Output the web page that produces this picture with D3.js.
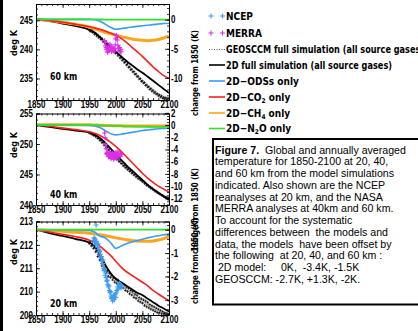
<!DOCTYPE html>
<html>
<head>
<meta charset="utf-8">
<script src="https://cdn.jsdelivr.net/npm/d3@7"></script>
<style>
  body { margin: 0; background: #fff; }
  svg { display: block; }
  .hx { font-family: "Liberation Sans Narrow", "Arial Narrow", "DejaVu Sans Condensed", "Liberation Sans", sans-serif; font-weight: bold; }
  .cap { font-family: "Liberation Sans", Arial, sans-serif; font-size: 10.6px; white-space: pre; }
</style>
</head>
<body>
<svg id="fig" width="418" height="331"></svg>
<script>
// ---- data ----
const modelYears = [1850,1875,1900,1925,1950,1960,1970,1980,1990,2000,2010,2020,2030,2040,2050,2060,2070,2080,2090,2100];

// 60 km
const km60_full = [245.2,244.85,244.45,244.0,243.4,242.9,242.1,241.2,240.4,239.6,238.8,238.0,237.3,236.6,236.0,235.3,234.6,233.9,233.2,232.5];
const km60_ods  = [245.15,245.15,245.15,245.15,245.15,245.1,244.85,244.35,243.8,243.45,243.55,243.7,243.85,243.95,244.05,244.15,244.25,244.35,244.45,244.5];
const km60_co2  = [245.2,244.95,244.65,244.3,243.9,243.7,243.45,243.15,242.8,242.45,241.9,241.2,240.4,239.6,238.8,237.9,237.0,236.2,235.5,235.0];
const km60_ch4  = [245.2,244.95,244.65,244.3,243.85,243.55,243.25,242.95,242.7,242.45,242.2,242.0,241.8,241.65,241.55,241.5,241.55,241.7,241.95,242.3];
const km60_n2o  = [245.15,245.15,245.15,245.15,245.15,245.15,245.14,245.13,245.12,245.1,245.1,245.1,245.1,245.1,245.1,245.1,245.1,245.1,245.1,245.1];

// 40 km
const km40_full = [253.1,252.8,252.5,252.2,251.9,251.55,251.0,250.2,249.3,248.3,247.4,246.5,245.7,244.9,244.1,243.3,242.6,242.0,241.4,240.8];
const km40_ods  = [253.1,253.1,253.1,253.1,253.05,252.95,252.7,252.2,251.7,251.5,251.6,251.75,251.9,252.05,252.2,252.3,252.4,252.5,252.55,252.6];
const km40_co2  = [253.15,252.9,252.6,252.35,252.0,251.75,251.4,250.9,250.3,249.6,248.8,247.9,247.0,246.1,245.2,244.4,243.7,243.1,242.6,242.1];
const km40_ch4  = [253.15,253.15,253.15,253.15,253.15,253.12,253.08,253.05,253.02,253.0,252.98,252.96,252.95,252.95,252.95,252.95,252.95,252.96,252.97,252.98];
const km40_n2o  = [253.1,253.1,253.1,253.1,253.1,253.08,253.05,253.0,252.97,252.95,252.92,252.9,252.88,252.86,252.85,252.83,252.82,252.8,252.8,252.8];

// 20 km
const km20_full = [212.65,212.5,212.38,212.25,212.1,211.95,211.6,211.15,210.8,210.55,210.4,210.25,210.1,209.95,209.85,209.7,209.55,209.4,209.28,209.15];
const km20_ods  = [212.65,212.65,212.65,212.64,212.62,212.55,212.38,212.3,212.1,211.85,211.95,212.05,212.12,212.18,212.24,212.3,212.35,212.39,212.43,212.46];
const km20_co2  = [212.65,212.55,212.45,212.35,212.2,212.1,211.95,211.75,211.55,211.3,211.05,210.85,210.7,210.55,210.4,210.25,210.05,209.9,209.75,209.6];
const km20_ch4  = [212.65,212.62,212.58,212.54,212.5,212.47,212.43,212.39,212.35,212.3,212.26,212.22,212.19,212.17,212.15,212.15,212.17,212.21,212.27,212.35];
const km20_n2o  = [212.65,212.65,212.65,212.65,212.65,212.65,212.65,212.65,212.65,212.65,212.65,212.65,212.65,212.65,212.65,212.65,212.65,212.65,212.65,212.65];

// GEOSCCM full simulation
const geosYears = [1950,1952,1954,1956,1958,1960,1962,1964,1966,1968,1970,1972,1974,1976,1978,1980,1982,1984,1986,1988,
  1990,1992,1994,1996,1998,2000,2002,2004,2006,2008,2010,2012,2014,2016,2018,2020,2022,2024,2026,2028,
  2030,2032,2034,2036,2038,2040,2042,2044,2046,2048,2050,2052,2054,2056,2058,2060,2062,2064,2066,2068,
  2070,2072,2074,2076,2078,2080,2082,2084,2086,2088,2090,2092,2094,2096,2098,2100];
const geos60 = [243.3,243.1,243.4,242.9,243.0,242.6,242.8,242.3,242.5,242.0,242.2,241.7,241.9,241.3,241.5,241.0,241.2,240.6,240.9,240.3,
  240.5,240.0,240.2,239.6,239.9,239.3,239.5,238.9,239.1,238.5,238.7,238.1,238.3,237.7,237.9,237.3,237.5,236.9,237.0,236.5,
  236.6,236.1,236.2,235.7,235.8,235.3,235.4,234.9,235.0,234.5,234.6,234.2,234.3,233.8,233.9,233.5,233.6,233.1,233.3,232.8,
  233.0,232.5,232.7,232.3,232.4,232.0,232.2,231.8,232.0,231.6,231.8,231.5,231.7,231.4,231.6,231.5];
const geos40 = [251.8,251.9,251.6,251.7,251.4,251.5,251.2,251.3,250.9,251.0,250.6,250.6,250.2,250.3,249.8,249.9,249.4,249.5,249.0,249.1,
  248.6,248.7,248.2,248.3,247.8,247.9,247.5,247.5,247.1,247.2,246.8,246.8,246.4,246.5,246.1,246.2,245.8,245.9,245.5,245.6,
  245.2,245.3,244.9,245.0,244.6,244.7,244.3,244.4,244.1,244.1,243.8,243.9,243.5,243.6,243.2,243.3,243.0,243.0,242.7,242.8,
  242.5,242.5,242.2,242.3,242.0,242.0,241.8,241.8,241.6,241.6,241.4,241.4,241.2,241.3,241.1,241.2];
const geos20 = [212.05,212.15,211.95,212.0,211.85,211.9,211.7,211.75,211.5,211.6,211.35,211.4,211.1,211.2,210.95,211.05,210.8,210.9,210.65,210.8,
  210.6,210.7,210.5,210.6,210.4,210.55,210.35,210.5,210.3,210.4,210.2,210.35,210.15,210.3,210.05,210.2,210.0,210.15,209.9,210.05,
  209.85,210.0,209.75,209.9,209.7,209.85,209.6,209.75,209.55,209.7,209.5,209.65,209.4,209.6,209.35,209.55,209.3,209.45,209.25,209.4,
  209.2,209.35,209.15,209.3,209.1,209.25,209.1,209.2,209.05,209.15,209.05,209.1,209.02,209.08,209.02,209.05];

// MERRA analyses (60 and 40 km)
const merraYears = [1979,1980,1981,1982,1983,1984,1985,1986,1987,1988,1989,1990,1991,1992,1993,1994,
  1995,1996,1997,1998,1999,2000,2001,2002,2003,2004,2005,2006,2007,2008,2009,2010];
const merra60 = [241.5,241.2,240.6,240.3,240.0,239.6,239.5,240.2,239.8,240.6,240.9,240.3,240.0,239.7,240.4,240.1,
  239.8,240.2,239.6,240.1,240.8,241.8,242.4,242.1,241.6,240.7,240.2,239.9,240.3,239.7,240.0,239.6];
const merra40 = [251.8,251.0,249.9,249.2,248.5,248.3,248.6,247.9,248.4,248.1,248.7,248.0,247.6,248.2,247.8,248.5,
  248.0,247.5,248.2,247.7,248.3,248.6,248.0,247.6,248.1,248.8,248.4,247.9,248.2,248.5,248.0,248.3];

// NCEP reanalyses (20 km)
const ncepYears = [1958,1959,1960,1961,1962,1963,1964,1965,1966,1967,1968,1969,1970,1971,1972,1973,1974,1975,1976,1977,
  1978,1979,1980,1981,1982,1983,1984,1985,1986,1987,1988,1989,1990,1991,1992,1993,1994,1995,1996,1997,
  1998,1999,2000,2001,2002,2003,2004,2005,2006,2007,2008,2009,2010];
const ncep20 = [212.2,212.3,212.1,212.25,212.0,212.85,212.15,212.0,211.9,212.05,211.8,211.7,211.75,211.6,211.45,211.5,211.3,211.2,211.35,211.0,
  210.9,210.95,210.7,210.8,210.6,210.45,210.5,210.3,210.2,210.25,210.05,209.95,210.0,209.8,209.7,209.75,209.6,209.7,209.85,209.65,
  209.8,209.9,209.75,209.95,210.05,210.2,210.1,210.3,210.2,210.35,210.25,210.3,210.15];

const captionLines = [
  "Global and annually averaged",
  "temperature for 1850-2100 at 20, 40,",
  "and 60 km from the model simulations",
  "indicated. Also shown are the NCEP",
  "reanalyses at 20 km, and the NASA",
  "MERRA analyses at 40km and 60 km.",
  "To account for the systematic",
  "differences between  the models and",
  "data, the models  have been offset by",
  "the following  at 20, 40, and 60 km :",
  " 2D model:     0K,  -3.4K, -1.5K",
  "GEOSCCM: -2.7K, +1.3K, -2K."
];

// ---- drawing ----
const C = { ods: "#3a9cf2", co2: "#ff1e1e", ch4: "#ffa41c", n2o: "#2fe02f", merra: "#dc2ee8", ncep: "#3a9cf2" };

// narrow the bold sans to the condensed look of the original plot font
function squeeze(sel, k) {
  sel.each(function () {
    const w = this.getComputedTextLength();
    if (w > 0) d3.select(this).attr("textLength", w * k).attr("lengthAdjust", "spacingAndGlyphs");
  });
}

const svg = d3.select("#fig");
svg.append("rect").attr("x", 0).attr("y", 0).attr("width", 3).attr("height", 331).attr("fill", "#000");

const x = d3.scaleLinear().domain([1850, 2100]).range([36, 169]);

const panels = [
  { id: "p60", label: "60 km", top: 4, bottom: 100, dom: [231.3, 247.8], off: 245.1,
    lt: [235, 240, 245], lm: d3.range(232, 248, 1), rt: [0, -5, -10], rm: d3.range(-13, 3, 1),
    full: km60_full, ods: km60_ods, co2: km60_co2, ch4: km60_ch4, n2o: km60_n2o, geos: geos60,
    obs: merra60, obsYears: merraYears, obsColor: C.merra, degY: 43, chgY: 73, kmY: 80 },
  { id: "p40", label: "40 km", top: 113.5, bottom: 205, dom: [240, 255], off: 253.1,
    lt: [240, 245, 250, 255], lm: d3.range(240, 256, 1), rt: [2, 0, -2, -4, -6, -8, -10, -12], rm: d3.range(-13, 2.01, 0.5),
    full: km40_full, ods: km40_ods, co2: km40_co2, ch4: km40_ch4, n2o: km40_n2o, geos: geos40,
    obs: merra40, obsYears: merraYears, obsColor: C.merra, degY: 145, chgY: 211, kmY: 198 },
  { id: "p20", label: "20 km", top: 221.5, bottom: 315, dom: [209, 213], off: 212.65,
    lt: [209, 210, 211, 212, 213], lm: d3.range(209, 213.01, 0.2), rt: [0, -1, -2, -3], rm: d3.range(-3.6, 0.4, 0.2),
    full: km20_full, ods: km20_ods, co2: km20_co2, ch4: km20_ch4, n2o: km20_n2o, geos: geos20,
    obs: ncep20, obsYears: ncepYears, obsColor: C.ncep, degY: 252, chgY: 261, kmY: 307 }
];

const plus = (px, py, s) => `M${px - s},${py}H${px + s}M${px},${py - s}V${py + s}`;

panels.forEach(p => {
  const y = d3.scaleLinear().domain(p.dom).range([p.bottom, p.top]);
  const yR = d3.scaleLinear().domain([p.dom[0] - p.off, p.dom[1] - p.off]).range([p.bottom, p.top]);

  svg.append("clipPath").attr("id", "clip-" + p.id)
    .append("rect").attr("x", 36).attr("y", p.top).attr("width", 133).attr("height", p.bottom - p.top);

  const g = svg.append("g").attr("clip-path", `url(#clip-${p.id})`);
  const line = d3.line().x((d, i) => x(modelYears[i])).y(d => y(d)).curve(d3.curveMonotoneX);

  // GEOSCCM: thin dotted trace with small crosses
  g.append("path").attr("d", d3.line().x((d, i) => x(geosYears[i])).y(d => y(d))(p.geos))
    .attr("fill", "none").attr("stroke", "#000").attr("stroke-width", 0.6).attr("stroke-dasharray", "1,1");
  g.append("path").attr("d", p.geos.map((d, i) => plus(x(geosYears[i]), y(d), 1.3)).join(""))
    .attr("stroke", "#000").attr("stroke-width", 0.7).attr("fill", "none");

  g.append("path").attr("d", line(p.full)).attr("fill", "none").attr("stroke", "#000").attr("stroke-width", 1.8);
  g.append("path").attr("d", line(p.ch4)).attr("fill", "none").attr("stroke", C.ch4).attr("stroke-width", 3);
  g.append("path").attr("d", line(p.co2)).attr("fill", "none").attr("stroke", C.co2).attr("stroke-width", 1.6);
  g.append("path").attr("d", line(p.ods)).attr("fill", "none").attr("stroke", C.ods).attr("stroke-width", 1.6);
  g.append("path").attr("d", line(p.n2o)).attr("fill", "none").attr("stroke", C.n2o).attr("stroke-width", 1.8);

  g.append("path").attr("d", p.obs.map((d, i) => plus(x(p.obsYears[i]), y(d), 2.5)).join(""))
    .attr("stroke", p.obsColor).attr("stroke-width", 1.1).attr("fill", "none");

  // frame + axes (IDL style, ticks pointing inward)
  const ax = svg.append("g").attr("class", "hx").style("font-size", "9.5px");

  ax.append("g").attr("transform", `translate(0,${p.bottom})`)
    .call(d3.axisBottom(x).tickValues([1850, 1900, 1950, 2000, 2050, 2100]).tickFormat(d3.format("d")).tickSize(-4).tickPadding(1));
  ax.append("g").attr("transform", `translate(0,${p.bottom})`)
    .call(d3.axisBottom(x).tickValues(d3.range(1860, 2100, 10)).tickFormat("").tickSize(-2))
    .call(s => s.select(".domain").remove());
  ax.append("g").attr("transform", `translate(0,${p.top})`)
    .call(d3.axisTop(x).tickValues([1850, 1900, 1950, 2000, 2050, 2100]).tickFormat("").tickSize(-4));
  ax.append("g").attr("transform", `translate(0,${p.top})`)
    .call(d3.axisTop(x).tickValues(d3.range(1860, 2100, 10)).tickFormat("").tickSize(-2))
    .call(s => s.select(".domain").remove());

  ax.append("g").attr("transform", "translate(36,0)")
    .call(d3.axisLeft(y).tickValues(p.lt).tickFormat(d3.format("d")).tickSize(-4).tickPadding(3));
  ax.append("g").attr("transform", "translate(36,0)")
    .call(d3.axisLeft(y).tickValues(p.lm).tickFormat("").tickSize(-2))
    .call(s => s.select(".domain").remove());

  ax.append("g").attr("transform", "translate(169,0)")
    .call(d3.axisRight(yR).tickValues(p.rt).tickFormat(d3.format("d")).tickSize(-4).tickPadding(2));
  ax.append("g").attr("transform", "translate(169,0)")
    .call(d3.axisRight(yR).tickValues(p.rm).tickFormat("").tickSize(-2))
    .call(s => s.select(".domain").remove());

  ax.selectAll("path.domain").attr("stroke", "#000").attr("stroke-width", 1);
  ax.selectAll(".tick line").attr("stroke", "#000").attr("stroke-width", 0.8);
  ax.selectAll("text").attr("fill", "#000").text(function () { return this.textContent.replace("\u2212", "-"); });
  squeeze(ax.selectAll("text"), 0.8);

  // labels
  squeeze(svg.append("text").attr("class", "hx").attr("x", 50).attr("y", p.kmY)
    .style("font-size", "10px").text(p.label), 0.88);
  svg.append("text").attr("class", "hx").attr("transform", `translate(17,${p.degY}) rotate(-90)`)
    .attr("text-anchor", "middle").style("font-size", "8.5px").attr("textLength", 26)
    .attr("lengthAdjust", "spacingAndGlyphs").text("deg  K");
  svg.append("text").attr("class", "hx").attr("transform", `translate(197.5,${p.chgY}) rotate(-90)`)
    .attr("text-anchor", "middle").style("font-size", "8.5px").attr("textLength", 86)
    .attr("lengthAdjust", "spacingAndGlyphs").text("change  from  1850  (K)");
});

// ---- legend ----
const lg = svg.append("g").attr("class", "hx").style("font-size", "10px");
const legendRows = [
  { kind: "obs", color: C.ncep, text: "NCEP", y: 16 },
  { kind: "obs", color: C.merra, text: "MERRA", y: 33 },
  { kind: "dots", color: "#555", text: "GEOSCCM full simulation (all source gases)", y: 49.5, len: 198 },
  { kind: "line", color: "#000", text: "2D full simulation (all source gases)", y: 65, len: 166 },
  { kind: "line", color: C.ods, text: "2D\u2212ODSs only", y: 81 },
  { kind: "line", color: C.co2, text: ["2D\u2212CO", "2", " only"], y: 97 },
  { kind: "line", color: C.ch4, text: ["2D\u2212CH", "4", " only"], y: 113 },
  { kind: "line", color: C.n2o, text: ["2D\u2212N", "2", "O only"], y: 128.5 }
];
legendRows.forEach(r => {
  if (r.kind === "obs") {
    lg.append("path").attr("d", plus(211, r.y, 2.6) + plus(222.5, r.y, 2.6))
      .attr("stroke", r.color).attr("stroke-width", 1.1).attr("fill", "none");
  } else {
    lg.append("line").attr("x1", 209).attr("x2", 225).attr("y1", r.y).attr("y2", r.y)
      .attr("stroke", r.color).attr("stroke-width", r.kind === "dots" ? 1 : 1.6)
      .attr("stroke-dasharray", r.kind === "dots" ? "1,1.5" : null);
  }
  const t = lg.append("text").attr("x", 226).attr("y", r.y + 3.5);
  if (Array.isArray(r.text)) {
    t.append("tspan").text(r.text[0]);
    t.append("tspan").attr("dy", 2).style("font-size", "6.5px").text(r.text[1]);
    t.append("tspan").attr("dy", -2).text(r.text[2]);
  } else {
    t.text(r.text);
    if (r.len) t.attr("textLength", r.len).attr("lengthAdjust", "spacingAndGlyphs");
  }
});

// ---- caption box ----
svg.append("rect").attr("x", 213).attr("y", 139).attr("width", 220).attr("height", 165.5)
  .attr("fill", "#fff").attr("stroke", "#000").attr("stroke-width", 2);
const cap = svg.append("text").attr("class", "cap");
captionLines.forEach((s, i) => {
  const t = cap.append("tspan").attr("x", 215).attr("y", 153.5 + i * 11.75);
  if (i === 0) {
    t.append("tspan").attr("font-weight", "bold").text("Figure 7.");
    t.append("tspan").text("  " + s);
  } else {
    t.text(s);
  }
});
</script>
</body>
</html>
